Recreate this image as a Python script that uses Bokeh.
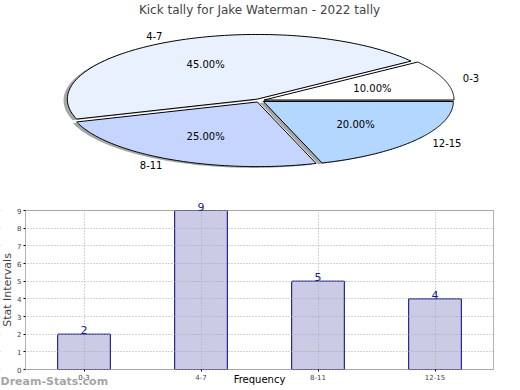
import numpy as np
from bokeh.plotting import figure
from bokeh.layouts import column
from bokeh.models import Range1d, ColumnDataSource, LabelSet, Label, FactorRange, BoxAnnotation
from bokeh.embed import file_html
from bokeh.resources import INLINE
from bokeh.core.properties import value

# ---------------- data ----------------
title_text = "Kick tally for Jake Waterman - 2022 tally"
categories = ["0-3", "4-7", "8-11", "12-15"]
counts = [2, 9, 5, 4]
pie_colors = ["#ffffff", "#eaf1fe", "#c5d5fe", "#b4d7ff"]
y_label = "Stat Intervals"
x_label = "Frequency"
y_ticks = [0, 1, 2, 3, 4, 5, 6, 7, 8, 9]
y_max = 9
watermark = "Dream-Stats.com"

# ---------------- layout / style ----------------
FONT = "DejaVu Sans"
W = 520
PIE_H = 195
BAR_H = 195
TITLE_H = 15          # title panel height (px)
FL, FR = 0.0, 518.0   # frame left/right (frames of a column are aligned)
CX, CY = 259.0, 99.5  # pie centre in canvas px
RX, RY = 190.0, 65.0  # ellipse radii in px
EXPLODE = 0.025
SHADOW = 0.02

# ---------------- pie ----------------
pie = figure(width=W, height=PIE_H, output_backend="svg", toolbar_location=None,
             x_axis_location=None, y_axis_location=None,
             x_range=Range1d((FL - CX) / RX, (FR - CX) / RX),
             y_range=Range1d((CY - PIE_H) / RY, (CY - TITLE_H) / RY),
             min_border_left=0, min_border_right=int(W - FR), min_border_top=0,
             min_border_bottom=0, title=title_text)
pie.grid.visible = False
pie.outline_line_color = None
pie.title.align = "center"
pie.title.standoff = 0
pie.title.text_font = FONT
pie.title.text_font_size = "12px"
pie.title.text_font_style = "normal"

total = float(sum(counts))
fracs = np.array(counts) / total
ends = np.cumsum(fracs) * 2 * np.pi
starts = ends - fracs * 2 * np.pi
mids = (starts + ends) / 2
ox = EXPLODE * np.cos(mids)
oy = EXPLODE * np.sin(mids)

xs, ys = [], []
for s, e, dx, dy in zip(starts, ends, ox, oy):
    t = np.linspace(s, e, 120)
    xs.append(np.concatenate([[dx], dx + np.cos(t), [dx]]))
    ys.append(np.concatenate([[dy], dy + np.sin(t), [dy]]))

pie.patches([x - SHADOW for x in xs], [y - SHADOW for y in ys],
            fill_color="#4d4d4d", fill_alpha=0.5, line_color=None)
pie.patches(xs, ys, fill_color=pie_colors, line_color="black", line_width=1)

lab_src = ColumnDataSource(dict(
    x=ox + 1.1 * np.cos(mids), y=oy + 1.1 * np.sin(mids), t=categories,
    a=["left" if c > 0 else "right" for c in np.cos(mids)]))
pie.text(x="x", y="y", text="t", text_align="a", source=lab_src, text_baseline="middle",
         text_font=value(FONT), text_font_size="10px", text_color="black")
pct_src = ColumnDataSource(dict(
    x=ox + 0.6 * np.cos(mids), y=oy + 0.6 * np.sin(mids),
    t=["%.2f%%" % (f * 100) for f in fracs]))
pie.text(x="x", y="y", text="t", source=pct_src, text_align="center", text_baseline="middle",
         text_font=value(FONT), text_font_size="10px", text_color="black")

# ---------------- bar ----------------
# plot box: y=0 at canvas y 174 (page 369), y=9 at canvas y 15 (page 210),
# x from canvas 25 to 493; the frame covers the whole canvas so that the texts
# outside the box are not clipped.
BOX_L = 25.0
PX = (174.0 - 15.0) / y_max
FT = 0
n = len(categories)
pad = BOX_L * n / ((FR - FL) - 2 * BOX_L)
bar = figure(width=W, height=BAR_H, output_backend="svg", toolbar_location=None,
             x_range=FactorRange(*categories, range_padding=pad,
                                 range_padding_units="absolute"),
             y_range=Range1d(-(BAR_H - 174.0) / PX, y_max + (15.0 - FT) / PX),
             min_border_top=FT, min_border_right=int(W - FR), min_border_left=0,
             min_border_bottom=0)
bar.outline_line_color = None

bar.vbar(x=categories, top=counts, width=0.45, fill_color="#cbcbe5",
         line_color="#000080", line_width=1)

bar.grid.grid_line_color = "#a8a8a8"
bar.grid.grid_line_dash = "1 2"
bar.grid.level = "annotation"
bar.ygrid.ticker = y_ticks

# white masks outside the plot box (hide grid lines there)
for kw in (dict(bottom=y_max), dict(top=0), dict(right=0), dict(left=n)):
    bar.add_layout(BoxAnnotation(fill_color="white", fill_alpha=1, line_color=None,
                                 level="annotation", **kw))
# plot box outline
bar.add_layout(BoxAnnotation(left=0, right=n, bottom=0, top=y_max,
                             fill_alpha=0, line_color="black", line_width=1,
                             level="overlay"))

bar.yaxis.fixed_location = 0
bar.yaxis.level = "overlay"
bar.yaxis.ticker = y_ticks
bar.yaxis.bounds = (0, y_max)
bar.yaxis.axis_label = y_label
bar.yaxis.axis_label_text_font = FONT
bar.yaxis.axis_label_text_font_size = "11px"
bar.yaxis.axis_label_text_font_style = "normal"
bar.yaxis.axis_label_standoff = 0
bar.yaxis.major_label_text_font = FONT
bar.yaxis.major_label_text_font_size = "7px"
bar.yaxis.major_label_standoff = 2
bar.yaxis.major_tick_in = 0
bar.yaxis.major_tick_out = 2
bar.yaxis.minor_tick_line_color = None
bar.yaxis.axis_line_color = None

bar.xaxis.fixed_location = 0
bar.xaxis.level = "overlay"
bar.xaxis.major_label_text_font = FONT
bar.xaxis.major_label_text_font_size = "7px"
bar.xaxis.major_label_standoff = 2
bar.xaxis.major_tick_in = 0
bar.xaxis.major_tick_out = 2
bar.xaxis.axis_line_color = None

val_src = ColumnDataSource(dict(x=categories, y=counts, t=[str(c) for c in counts]))
bar.add_layout(LabelSet(x="x", y="y", text="t", source=val_src, text_align="center",
                        text_baseline="bottom", text_font=value(FONT), text_font_size="11px",
                        text_color="#1a1a80", level="overlay"))

bar.add_layout(Label(x=259, y=178, x_units="canvas", y_units="canvas", text=x_label,
                     text_align="center", text_baseline="top", text_font=FONT,
                     text_font_size="10px", text_color="black", level="overlay"))
bar.add_layout(Label(x=0, y=179, x_units="canvas", y_units="canvas", text=watermark,
                     text_align="left", text_baseline="top", text_font=FONT,
                     text_font_size="11px", text_font_style="bold", text_color="#999999",
                     text_alpha=0.9, level="overlay"))

layout = column(pie, bar, spacing=0)
open("out.html", "w").write(file_html(layout, INLINE))
